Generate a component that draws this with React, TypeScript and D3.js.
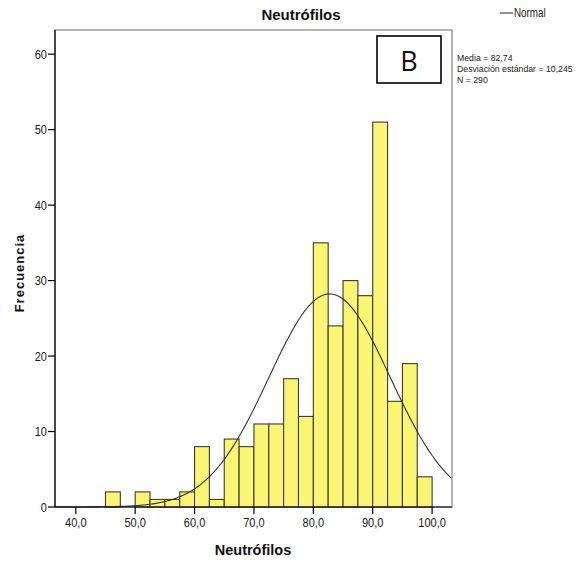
import React from "react";
import * as d3 from "d3";

const binStarts = [45, 47.5, 50, 52.5, 55, 57.5, 60, 62.5, 65, 67.5, 70, 72.5, 75, 77.5, 80, 82.5, 85, 87.5, 90, 92.5, 95, 97.5];
const counts = [2, 0, 2, 1, 1, 2, 8, 1, 9, 8, 11, 11, 17, 12, 35, 24, 30, 28, 51, 14, 19, 4];
const binWidth = 2.5;
const xTicks = [40, 50, 60, 70, 80, 90, 100];
const yTicks = [0, 10, 20, 30, 40, 50, 60];
const mean = 82.74;
const sd = 10.245;
const n = 290;
const statsLines = ["Media = 82,74", "Desviación estándar = 10,245", "N = 290"];

const W = 586;
const H = 562;
const left = 55, right = 452, top = 30, bottom = 507;
const sans = "'Liberation Sans', Arial, sans-serif";

function NText(props: { x: number; y: number; size: number; anchor?: string; children: React.ReactNode; sx?: number }) {
  const sx = props.sx ?? 0.82;
  return (
    <text
      transform={`translate(${props.x},${props.y}) scale(${sx},1)`}
      textAnchor={props.anchor || "start"}
      fontFamily={sans}
      fontSize={props.size}
      fill="#1a1a1a"
    >
      {props.children}
    </text>
  );
}

export default function App() {
  const x = d3.scaleLinear().domain([36.5, 103.35]).range([left, right]);
  const y = d3.scaleLinear().domain([0, 63.2]).range([bottom, top]);
  const pdf = (v: number) =>
    (n * binWidth) / (sd * Math.sqrt(2 * Math.PI)) * Math.exp(-0.5 * ((v - mean) / sd) ** 2);
  const xs = d3.range(36.5, 103.35 + 0.001, 0.25);
  const line = d3.line<number>().x((v) => x(v)).y((v) => y(pdf(v)));
  const fmt = (v: number) => v.toFixed(1).replace(".", ",");

  return (
    <svg width={W} height={H} style={{ position: "absolute", left: 0, top: 0, background: "#fff" }}>
      <rect x={0} y={0} width={W} height={H} fill="#fff" />
      <rect x={left} y={top} width={right - left} height={bottom - top} fill="none" stroke="#8a8a8a" strokeWidth={1.3} />
      {binStarts.map((s, i) =>
        counts[i] > 0 ? (
          <rect
            key={i}
            x={x(s)}
            y={y(counts[i])}
            width={x(s + binWidth) - x(s)}
            height={y(0) - y(counts[i])}
            fill="#FAF674"
            stroke="#3a3a3a"
            strokeWidth={1.1}
          />
        ) : null
      )}
      <path d={line(xs) || ""} fill="none" stroke="#333" strokeWidth={1.1} />
      <line x1={left} x2={left} y1={top} y2={bottom} stroke="#000" strokeWidth={1.2} />
      <line x1={left} x2={right} y1={bottom} y2={bottom} stroke="#000" strokeWidth={1.2} />
      {yTicks.map((t) => (
        <g key={"y" + t}>
          <line x1={left - 7} x2={left} y1={y(t)} y2={y(t)} stroke="#000" strokeWidth={1.2} />
          <NText x={left - 8} y={y(t) + 4.5} size={13} anchor="end" sx={0.85}>{t}</NText>
        </g>
      ))}
      {xTicks.map((t) => (
        <g key={"x" + t}>
          <line x1={x(t)} x2={x(t)} y1={bottom} y2={bottom + 7} stroke="#000" strokeWidth={1.2} />
          <NText x={x(t)} y={bottom + 20} size={13} anchor="middle" sx={0.85}>{fmt(t)}</NText>
        </g>
      ))}
      <text x={301} y={20} textAnchor="middle" fontFamily={sans} fontWeight="bold" fontSize={15} fill="#111">
        Neutrófilos
      </text>
      <text x={253} y={555} textAnchor="middle" fontFamily={sans} fontWeight="bold" fontSize={14.5} fill="#111">
        Neutrófilos
      </text>
      <text
        transform={`translate(24,${273}) rotate(-90)`}
        textAnchor="middle"
        fontFamily={sans}
        fontWeight="bold"
        fontSize={13}
        letterSpacing={1}
        fill="#111"
      >
        Frecuencia
      </text>
      <line x1={500} x2={513} y1={13} y2={13} stroke="#333" strokeWidth={1.1} />
      <NText x={514} y={17} size={12}>Normal</NText>
      {statsLines.map((s, i) => (
        <NText key={s} x={457} y={61 + i * 11} size={9.5} sx={0.92}>{s}</NText>
      ))}
      <rect x={377} y={36} width={64} height={47} fill="#fff" stroke="#000" strokeWidth={1.6} />
      <text x={409} y={71} textAnchor="middle" fontFamily="'Open Sans', sans-serif" fontSize={27} fill="#111">
        B
      </text>
    </svg>
  );
}
